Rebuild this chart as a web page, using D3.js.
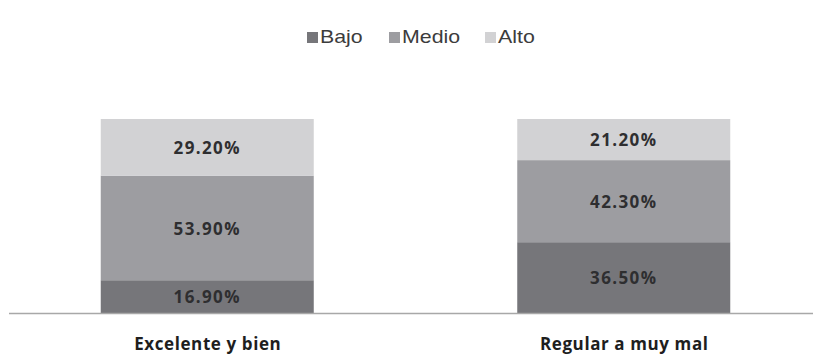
<!DOCTYPE html>
<html>
<head>
<meta charset="utf-8">
<script src="https://cdn.jsdelivr.net/npm/d3@7"></script>
<style>
  html, body { margin: 0; padding: 0; background: #ffffff; }
  svg { display: block; }
</style>
</head>
<body>
<svg id="chart" width="813" height="359"></svg>
<script>
// Categories and series (percent of each group)
const categories = ["Excelente y bien", "Regular a muy mal"];
const seriesNames = ["Bajo", "Medio", "Alto"];
const bajo  = [16.9, 36.5];
const medio = [53.9, 42.3];
const alto  = [29.2, 21.2];
const seriesColors = ["#76767a", "#9d9da1", "#d2d2d4"];

const rows = categories.map((c, i) => ({ cat: c, Bajo: bajo[i], Medio: medio[i], Alto: alto[i] }));

const svg = d3.select("#chart");

const x = d3.scalePoint().domain(categories).range([-1, 832]).padding(0.5);
const barW = 213;
const y = d3.scaleLinear().domain([0, 100]).range([313, 119]);
const color = d3.scaleOrdinal().domain(seriesNames).range(seriesColors);

const stacked = d3.stack().keys(seriesNames)(rows);

// Bars
const layers = svg.append("g").selectAll("g")
  .data(stacked).join("g")
  .attr("fill", d => color(d.key));

layers.selectAll("rect")
  .data(d => d)
  .join("rect")
  .attr("x", d => x(d.data.cat) - barW / 2)
  .attr("width", barW)
  .attr("y", d => y(d[1]))
  .attr("height", d => y(d[0]) - y(d[1]));

// Value labels
layers.selectAll("text")
  .data(d => d.map(v => ({ v, key: d.key })))
  .join("text")
  .attr("x", d => x(d.v.data.cat))
  .attr("y", d => (y(d.v[0]) + y(d.v[1])) / 2)
  .attr("dy", "0.4em")
  .attr("text-anchor", "middle")
  .attr("fill", "#2e2e30")
  .attr("font-family", "'Open Sans', sans-serif")
  .attr("font-weight", 700)
  .attr("font-size", 17)
  .attr("letter-spacing", "1.4px")
  .text(d => d.v.data[d.key].toFixed(2) + "%");

// Baseline axis
svg.append("line")
  .attr("x1", 9).attr("x2", 813)
  .attr("y1", 313.5).attr("y2", 313.5)
  .attr("stroke", "#a8a8a8").attr("stroke-width", 1.5);

const xAxis = d3.axisBottom(x).tickSize(0).tickPadding(0);
const ax = svg.append("g").attr("transform", "translate(0,350)").call(xAxis);
ax.select(".domain").remove();
ax.selectAll("text")
  .attr("fill", "#1e1e1e")
  .attr("font-family", "'Open Sans', sans-serif")
  .attr("font-weight", 700)
  .attr("font-size", 17)
  .attr("letter-spacing", "0.6px")
  .attr("dy", 0);

// Legend
const legendItems = [
  { name: "Bajo", x: 307 },
  { name: "Medio", x: 389 },
  { name: "Alto", x: 485 }
];
const lg = svg.append("g").selectAll("g").data(legendItems).join("g")
  .attr("transform", d => `translate(${d.x},32)`);
lg.append("rect").attr("width", 11).attr("height", 11).attr("fill", d => color(d.name));
lg.append("text")
  .attr("transform", "translate(13,10.7) scale(1.22,1)")
  .attr("fill", "#3c3c3c")
  .attr("font-family", "'Liberation Sans', Arial, sans-serif")
  .attr("font-size", 17.5)
  .text(d => d.name);
</script>
</body>
</html>
